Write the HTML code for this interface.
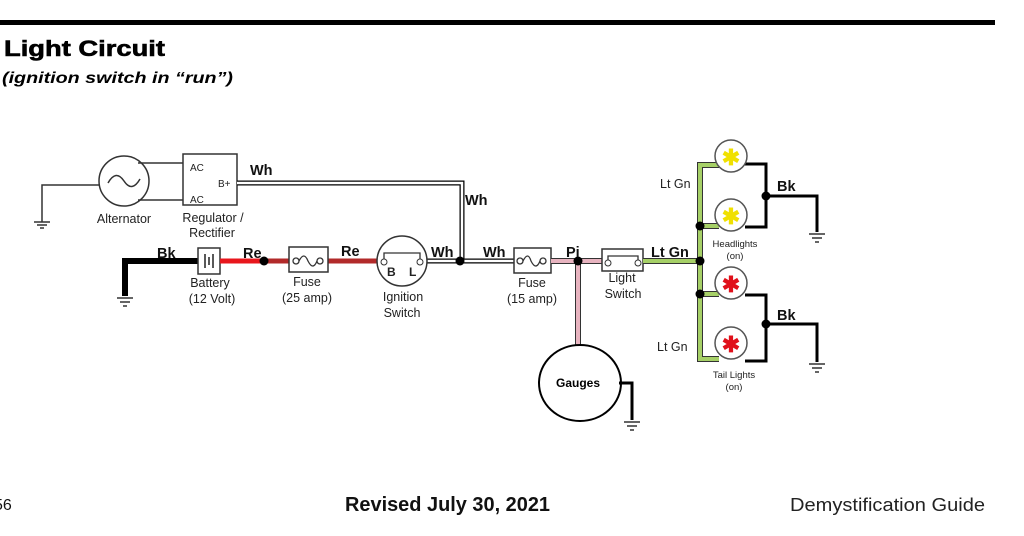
<!DOCTYPE html>
<html><head><meta charset="utf-8"><style>
body{margin:0;background:#fff;width:1024px;height:536px;overflow:hidden}
svg{display:block;font-family:"Liberation Sans",Arial,sans-serif}
</style></head><body>
<svg width="1024" height="536" viewBox="0 0 1024 536" xmlns="http://www.w3.org/2000/svg">
<rect x="0" y="20" width="995" height="5" fill="#000"/>
<text x="4" y="56" font-size="22" font-weight="bold" textLength="161" lengthAdjust="spacingAndGlyphs" stroke="#000" stroke-width="0.6">Light Circuit</text>
<text x="2" y="83" font-size="16" font-weight="bold" font-style="italic" textLength="231" lengthAdjust="spacingAndGlyphs">(ignition switch in “run”)</text>

<g fill="none" stroke="#333" stroke-width="1.5">
<circle cx="124" cy="181" r="25"/>
<path d="M108 183 q8 -14 16 -2 q8 12 16 -2"/>
<path d="M100 185 H42 V222"/>
<path d="M34 222 H50 M37 225 H47 M40 228 H44"/>
<path d="M138 163 H183 M138 200 H183"/>
<rect x="183" y="154" width="54" height="51"/>
</g>
<g font-size="10" fill="#222">
<text x="190" y="171">AC</text><text x="218" y="187">B+</text><text x="190" y="203">AC</text>
</g>
<g font-size="12.5" fill="#222" text-anchor="middle">
<text x="124" y="223">Alternator</text>
<text x="213" y="222">Regulator /</text><text x="212" y="237">Rectifier</text>
<text x="210" y="287">Battery</text><text x="212" y="303">(12 Volt)</text>
<text x="307" y="286">Fuse</text><text x="307" y="302">(25 amp)</text>
<text x="403" y="301">Ignition</text><text x="402" y="317">Switch</text>
<text x="532" y="287">Fuse</text><text x="532" y="303">(15 amp)</text>
<text x="622" y="282">Light</text><text x="623" y="298">Switch</text>
</g>
<path d="M237 183 H462 V261" fill="none" stroke="#000" stroke-width="5"/>
<path d="M237 183 H462 V261" fill="none" stroke="#fff" stroke-width="2.5"/>
<path d="M427 261 H514" fill="none" stroke="#000" stroke-width="5"/>
<path d="M427 261 H514" stroke="#fff" stroke-width="2.5"/>
<path d="M198 261 H125 V296" fill="none" stroke="#000" stroke-width="6"/>
<path d="M117 298 H133 M120 302 H130 M123 306 H127" stroke="#333" stroke-width="1.5"/>
<rect x="198" y="248" width="22" height="26" fill="#fff" stroke="#333" stroke-width="1.5"/>
<path d="M205 254 V268 M209 257 V265 M213 254 V268" stroke="#222" stroke-width="1.5"/>
<path d="M220 261 H264" stroke="#e8161c" stroke-width="5"/>
<path d="M264 261 H289 M328 261 H378" stroke="#b22a2a" stroke-width="5"/>
<circle cx="264" cy="261" r="4.5"/>
<rect x="289" y="247" width="39" height="25" fill="#fff" stroke="#333" stroke-width="1.5"/>
<path d="M293 261 a3 3 0 1 0 6 0 a3 3 0 1 0 -6 0 M299 261 q5 -10 9 0 q5 10 9 0 M317 261 a3 3 0 1 0 6 0 a3 3 0 1 0 -6 0" fill="none" stroke="#333" stroke-width="1.3"/>
<circle cx="402" cy="261" r="25" fill="#fff" stroke="#333" stroke-width="1.5"/>
<path d="M384 261 V253 H420 V261" fill="none" stroke="#333" stroke-width="1.3"/>
<circle cx="384" cy="262" r="3" fill="#fff" stroke="#333"/><circle cx="420" cy="262" r="3" fill="#fff" stroke="#333"/>
<text x="387" y="276" font-size="12" font-weight="bold" fill="#222">B</text><text x="409" y="276" font-size="12" font-weight="bold" fill="#222">L</text>
<circle cx="460" cy="261" r="4.5"/>
<rect x="514" y="248" width="37" height="25" fill="#fff" stroke="#333" stroke-width="1.5"/>
<path d="M517 261 a3 3 0 1 0 6 0 a3 3 0 1 0 -6 0 M523 261 q5 -10 8 0 q5 10 9 0 M540 261 a3 3 0 1 0 6 0 a3 3 0 1 0 -6 0" fill="none" stroke="#333" stroke-width="1.3"/>
<path d="M551 261 H602 M578 261 V345" fill="none" stroke="#333" stroke-width="6"/>
<path d="M551 261 H602 M578 261 V345" fill="none" stroke="#e8b4c0" stroke-width="4"/>
<circle cx="578" cy="261" r="4.5"/>
<rect x="602" y="249" width="41" height="22" fill="#fff" stroke="#333" stroke-width="1.5"/>
<path d="M608 262 V256 H638 V262" fill="none" stroke="#333" stroke-width="1.3"/>
<circle cx="608" cy="263" r="3" fill="#fff" stroke="#333"/><circle cx="638" cy="263" r="3" fill="#fff" stroke="#333"/>
<path d="M643 261 H700 M719 165 H700 V359 H719 M700 226 H719 M700 294 H719" fill="none" stroke="#333" stroke-width="6"/>
<path d="M643 261 H700 M719 165 H700 V359 H719 M700 226 H719 M700 294 H719" fill="none" stroke="#a6d067" stroke-width="4"/>
<circle cx="700" cy="226" r="4.5"/><circle cx="700" cy="261" r="4.5"/><circle cx="700" cy="294" r="4.5"/>
<path d="M745 164 H766 V227 H745 M766 196 H817 V232 M745 295 H766 V361 H745 M766 324 H817 V362" fill="none" stroke="#000" stroke-width="3"/>
<circle cx="766" cy="196" r="4.5"/><circle cx="766" cy="324" r="4.5"/>
<path d="M809 234 H825 M812 238 H822 M815 242 H819 M809 364 H825 M812 368 H822 M815 372 H819" stroke="#333" stroke-width="1.5"/>
<g stroke="#555" stroke-width="1.5" fill="#fff">
<circle cx="731" cy="156" r="16"/><circle cx="731" cy="215" r="16"/>
<circle cx="731" cy="283" r="16"/><circle cx="731" cy="343" r="16"/>
</g>
<g font-size="22" font-weight="bold" text-anchor="middle">
<text x="731" y="165" fill="#f0e000">✱</text><text x="731" y="224" fill="#f0e000">✱</text>
<text x="731" y="292" fill="#e0101a">✱</text><text x="731" y="352" fill="#e0101a">✱</text>
</g>
<g font-size="9.5" fill="#222" text-anchor="middle">
<text x="735" y="247">Headlights</text><text x="735" y="259">(on)</text>
<text x="734" y="378">Tail Lights</text><text x="734" y="390">(on)</text>
</g>
<ellipse cx="580" cy="383" rx="41" ry="38" fill="#fff" stroke="#000" stroke-width="2"/>
<text x="578" y="387" font-size="12" font-weight="bold" text-anchor="middle">Gauges</text>
<path d="M619 383 H632 V420" fill="none" stroke="#000" stroke-width="3"/>
<path d="M624 422 H640 M627 426 H637 M630 430 H634" stroke="#333" stroke-width="1.5"/>
<g font-size="14.5" font-weight="bold" fill="#111">
<text x="250" y="175">Wh</text><text x="465" y="205">Wh</text>
<text x="157" y="258">Bk</text><text x="243" y="258">Re</text><text x="341" y="256">Re</text>
<text x="431" y="257">Wh</text><text x="483" y="257">Wh</text><text x="566" y="257">Pi</text>
<text x="651" y="257">Lt Gn</text>
<text x="777" y="191">Bk</text><text x="777" y="320">Bk</text>
</g>
<g font-size="12.5" fill="#222"><text x="660" y="188">Lt Gn</text><text x="657" y="351">Lt Gn</text></g>
<text x="-6" y="510" font-size="16" fill="#111">56</text>
<text x="345" y="511" font-size="20" font-weight="bold" fill="#111" textLength="205" lengthAdjust="spacingAndGlyphs">Revised July 30, 2021</text>
<text x="790" y="511" font-size="18" fill="#222" textLength="195" lengthAdjust="spacingAndGlyphs">Demystification Guide</text>
</svg>
</body></html>
